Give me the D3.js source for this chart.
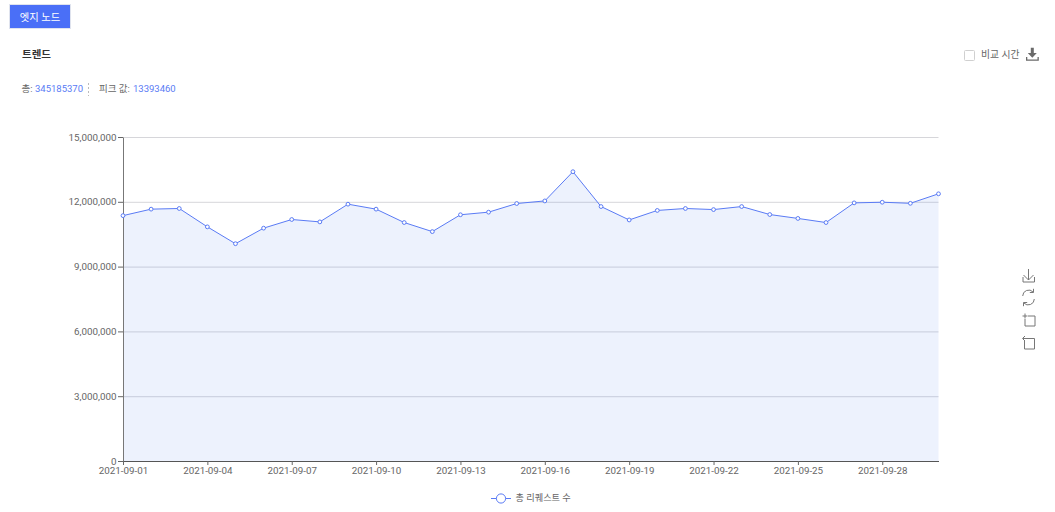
<!DOCTYPE html>
<html lang="ko">
<head>
<meta charset="utf-8">
<script src="https://cdn.jsdelivr.net/npm/d3@7/dist/d3.min.js"></script>
<style>
html,body{margin:0;padding:0;background:#fff;overflow:hidden}
svg{display:block}
text{font-family:Roboto,"Noto Sans CJK KR",sans-serif}
</style>
</head>
<body>
<svg id="c" width="1055" height="512"></svg>
<script>
const dates = ["2021-09-01","2021-09-02","2021-09-03","2021-09-04","2021-09-05","2021-09-06","2021-09-07","2021-09-08","2021-09-09","2021-09-10","2021-09-11","2021-09-12","2021-09-13","2021-09-14","2021-09-15","2021-09-16","2021-09-17","2021-09-18","2021-09-19","2021-09-20","2021-09-21","2021-09-22","2021-09-23","2021-09-24","2021-09-25","2021-09-26","2021-09-27","2021-09-28","2021-09-29","2021-09-30"];
const requests = [11360000,11660000,11690000,10840000,10060000,10780000,11180000,11070000,11890000,11660000,11040000,10620000,11400000,11520000,11920000,12040000,13393460,11780000,11160000,11600000,11690000,11640000,11780000,11410000,11230000,11040000,11950000,11980000,11930000,12370000];
const yTicks = [0,3000000,6000000,9000000,12000000,15000000];
const xTicks = dates.filter((d,i)=>i%3===0);
const seriesName = "총 리퀘스트 수";
const totalLabel = "총: ", totalValue = "345185370", peakLabel = "피크 값: ", peakValue = "13393460";

const BLUE = "#5a7bf5", TXT = "#666";
const svg = d3.select("#c");
const x = d3.scalePoint().domain(dates).range([123,938.5]);
const y = d3.scaleLinear().domain([0,15000000]).range([461,137]);

// header
svg.append("rect").attr("x",9.5).attr("y",4.5).attr("width",61).attr("height",24).attr("fill","#4a6ff7").attr("stroke","#dfe3ee");
svg.append("text").attr("x",40).attr("y",21).attr("text-anchor","middle").attr("font-size",10.3).attr("fill","#fff").text("엣지 노드");
svg.append("text").attr("x",22).attr("y",58).attr("font-size",10.5).attr("font-weight",700).attr("fill","#333").text("트렌드");

const s1 = svg.append("text").attr("x",21.5).attr("y",92).attr("font-size",9.5).attr("fill",TXT);
s1.append("tspan").text(totalLabel);
s1.append("tspan").attr("x",35).attr("fill",BLUE).text(totalValue);
svg.append("line").attr("x1",88.5).attr("x2",88.5).attr("y1",83).attr("y2",96).attr("stroke","#bbb").attr("stroke-dasharray","2,2");
const s2 = svg.append("text").attr("x",99).attr("y",92).attr("font-size",9.5).attr("fill",TXT);
s2.append("tspan").text(peakLabel);
s2.append("tspan").attr("x",133).attr("fill",BLUE).text(peakValue);

// compare checkbox and download
svg.append("rect").attr("x",964.5).attr("y",50.5).attr("width",10).attr("height",10).attr("rx",1).attr("fill","#fff").attr("stroke","#d0d0d0");
svg.append("text").attr("x",981).attr("y",58).attr("font-size",9.8).attr("fill",TXT).text("비교 시간");
svg.append("path").attr("fill","#6a6a6a").attr("d","M1030.8 47.7h3v5.3h3l-4.5 4.7-4.5-4.7h3z M1026 57h1.3v2.6h10.2V57h1.3v3.8h-12.8z");

// grid
svg.append("g").selectAll("line").data(yTicks.filter(d=>d>0)).join("line")
  .attr("x1",123).attr("x2",938.5).attr("y1",d=>y(d)+0.5).attr("y2",d=>y(d)+0.5)
  .attr("stroke","#d6d6da").attr("stroke-width",1);

// area and line
svg.append("path").datum(requests).attr("fill","#4a7dea").attr("fill-opacity",0.1)
  .attr("d",d3.area().x((d,i)=>x(dates[i])).y0(y(0)).y1(d=>y(d)));
svg.append("path").datum(requests).attr("fill","none").attr("stroke",BLUE).attr("stroke-width",1)
  .attr("d",d3.line().x((d,i)=>x(dates[i])).y(d=>y(d)));

// axes
const yAxis = svg.append("g").attr("transform","translate(123,0)")
  .call(d3.axisLeft(y).tickValues(yTicks).tickFormat(d3.format(",")).tickSize(5).tickSizeOuter(0).tickPadding(1.5));
const xAxis = svg.append("g").attr("transform","translate(0,461)")
  .call(d3.axisBottom(x).tickValues(xTicks).tickSize(4).tickSizeOuter(0).tickPadding(2));
[yAxis,xAxis].forEach(a=>{
  a.selectAll("line").attr("stroke","#666");
  a.selectAll("text").attr("fill",TXT).attr("font-size",9.8).attr("font-family","Roboto,sans-serif");
});
yAxis.selectAll("path.domain").attr("stroke","#777");
xAxis.selectAll("path.domain").attr("stroke","#555");

// points
svg.append("g").selectAll("circle").data(requests).join("circle")
  .attr("cx",(d,i)=>x(dates[i])).attr("cy",d=>y(d)).attr("r",1.9)
  .attr("fill","#fff").attr("stroke",BLUE).attr("stroke-width",1);

// legend
svg.append("line").attr("x1",491).attr("x2",511).attr("y1",498.5).attr("y2",498.5).attr("stroke",BLUE).attr("stroke-width",1);
svg.append("circle").attr("cx",501).attr("cy",498.5).attr("r",4.6).attr("fill","#fff").attr("stroke",BLUE).attr("stroke-width",1);
svg.append("text").attr("x",515.5).attr("y",501).attr("font-size",9.2).attr("fill",TXT).text(seriesName);

// toolbox
const tb = svg.append("g").attr("fill","none").attr("stroke","#777").attr("stroke-width",1);
tb.append("path").attr("d","M1028.5 269v11M1023.5 275l5 5 5-5M1023 277v5h11.5v-5");
tb.append("path").attr("d","M1022.7 296a6 6 0 0 1 10.4-4M1034.3 299a6 6 0 0 1-10.4 4M1033.5 288.8v3.7h-3.7M1023.5 306.2v-3.7h3.7");
tb.append("path").attr("d","M1028 316h7v10h-10v-7M1022.5 316h5M1025 313.5v5");
tb.append("path").attr("d","M1027 338.5h7.5v10.5h-10v-8M1025 336l-2.5 2.5 2.5 2.5M1023 338.5h4");
</script>
</body>
</html>
